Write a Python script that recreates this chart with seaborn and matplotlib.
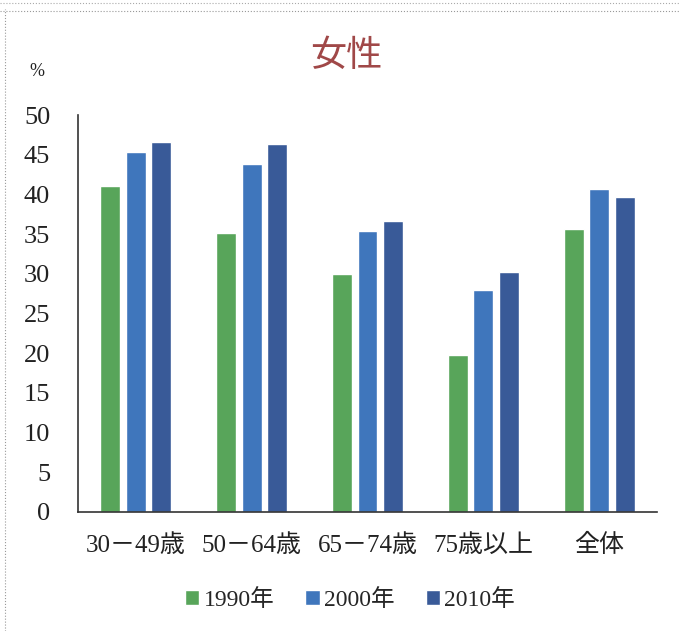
import numpy as np
import pandas as pd
import matplotlib
matplotlib.use('Agg')
import matplotlib.pyplot as plt
import seaborn as sns

categories = ['30－49歳', '50－64歳', '65－74歳', '75歳以上', '全体']
years = ['1990年', '2000年', '2010年']
v1990 = [41.0, 35.1, 30.0, 19.8, 35.6]
v2000 = [45.3, 43.8, 35.4, 27.9, 40.7]
v2010 = [46.6, 46.4, 36.6, 30.2, 39.7]
colors = ['#58a55a', '#3f76bc', '#395a98']

df = pd.DataFrame({
    'cat': categories * 3,
    'year': [y for y in years for _ in categories],
    'val': v1990 + v2000 + v2010,
})

sns.set_theme(style='white')
plt.rcParams['font.family'] = ['Liberation Serif', 'Noto Sans CJK JP']

fig = plt.figure(figsize=(6.8, 6.31), dpi=100)
ax = fig.add_axes([78 / 680, 119 / 631, 579 / 680, 397 / 631])

sns.barplot(data=df, x='cat', y='val', hue='year', palette=colors,
            width=0.66, gap=0.22, ax=ax, saturation=1, legend=True)

ax.set_xlim(-0.5, 4.5)
ax.set_ylim(0, 50)
ax.set_yticks(range(0, 51, 5))
ax.set_xlabel('')
ax.set_ylabel('')
ax.tick_params(axis='both', length=0, colors='#222222')
ax.tick_params(axis='x', pad=16, labelsize=18)
ax.tick_params(axis='y', pad=20, labelsize=19)
for s in ['top', 'right']:
    ax.spines[s].set_visible(False)
for s in ['left', 'bottom']:
    ax.spines[s].set_color('#333333')
    ax.spines[s].set_linewidth(1.2)

ax.legend(loc='upper center', bbox_to_anchor=(0.47, -0.14), ncol=3,
          frameon=False, fontsize=17, handlelength=0.6, handleheight=0.6,
          handletextpad=0.2, columnspacing=1.3)

fig.text(346 / 680, 1 - 57 / 631, '女性', ha='center', va='center',
         fontsize=26, color='#a04848')
fig.text(37 / 680, 1 - 72 / 631, '%', ha='center', va='center',
         fontsize=13, color='#222222')

# scanned page border
fig.add_artist(plt.Line2D([0.008, 0.008], [0.0, 0.985], transform=fig.transFigure,
                          color='#999999', lw=0.8, ls=':'))
fig.add_artist(plt.Line2D([0.0, 1.0], [0.982, 0.982], transform=fig.transFigure,
                          color='#999999', lw=0.8, ls=':'))
fig.add_artist(plt.Line2D([0.0, 1.0], [0.996, 0.996], transform=fig.transFigure,
                          color='#aaaaaa', lw=0.8, ls=':'))

fig.savefig('out.png', dpi=100)
